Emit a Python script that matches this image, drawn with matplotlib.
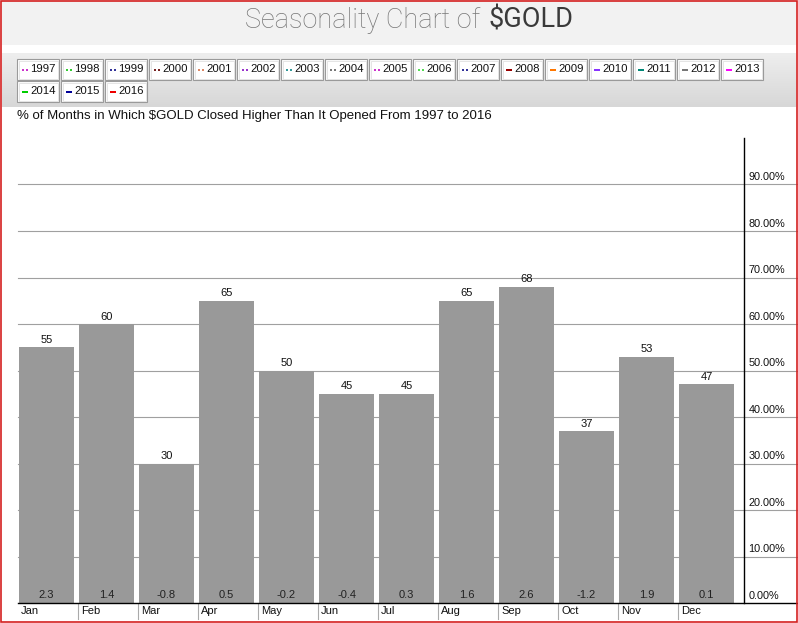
import numpy as np
import matplotlib.pyplot as plt
from matplotlib.patches import Rectangle
from matplotlib.colors import LinearSegmentedColormap

plt.rcParams['text.parse_math'] = False
plt.rcParams['font.family'] = ['Liberation Sans', 'DejaVu Sans']

MONTHS = ['Jan', 'Feb', 'Mar', 'Apr', 'May', 'Jun',
          'Jul', 'Aug', 'Sep', 'Oct', 'Nov', 'Dec']
PCT_HIGHER = [55, 60, 30, 65, 50, 45, 45, 65, 68, 37, 53, 47]
AVG_CHANGE = [2.3, 1.4, -0.8, 0.5, -0.2, -0.4, 0.3, 1.6, 2.6, -1.2, 1.9, 0.1]
Y_TICKS = [0, 10, 20, 30, 40, 50, 60, 70, 80, 90]

YEARS = [1997, 1998, 1999, 2000, 2001, 2002, 2003, 2004, 2005, 2006,
         2007, 2008, 2009, 2010, 2011, 2012, 2013, 2014, 2015, 2016]
YEAR_COLORS = ['#cc33cc', '#33cc33', '#333399', '#772222', '#dd8866',
               '#9933cc', '#339999', '#777777', '#cc33cc', '#55dd55',
               '#333399', '#990000', '#ff7700', '#8833ff', '#008877',
               '#777777', '#ff00ff', '#00cc00', '#000099', '#ee0000']

W, H = 798, 623
fig = plt.figure(figsize=(W / 100, H / 100), dpi=100)

# ── header: title band, legend band, subtitle (pixel coords) ─────────────
hdr = fig.add_axes([0, 0, 1, 1], zorder=-1)
hdr.add_patch(Rectangle((2, 0), W - 4, 45, color='#f2f2f2', lw=0))
grad = np.linspace(0, 1, 60).reshape(-1, 1)
cmap = LinearSegmentedColormap.from_list('band', ['#eeeeee', '#d7d7d7'])
hdr.imshow(grad, extent=(2, W - 2, 107, 53), cmap=cmap, aspect='auto',
           origin='upper')
hdr.set_xlim(0, W)
hdr.set_ylim(H, 0)
hdr.axis('off')

hdr.text(480, 28, 'Seasonality Chart of', ha='right', va='baseline',
         fontsize=19.5, color='#777777', family=['Roboto', 'DejaVu Sans'],
         fontweight='light')
hdr.text(488, 28, '$GOLD', ha='left', va='baseline', fontsize=19.5,
         color='#3a3a3a', family=['Roboto', 'DejaVu Sans'])

for k, (yr, col) in enumerate(zip(YEARS, YEAR_COLORS)):
    row, c = divmod(k, 17)
    x0, y0 = 17 + 44 * c, 59 + 22 * row
    hdr.add_patch(Rectangle((x0, y0), 42, 21, fc='white', ec='#9a9a9a', lw=0.8))
    hdr.add_patch(Rectangle((x0 + 1.5, y0 + 1.5), 39, 18, fc='none',
                            ec='#e0e0e0', lw=0.6))
    yc = y0 + 10.5
    if yr < 2008:
        for dx in (5, 9):
            hdr.add_patch(Rectangle((x0 + dx, yc - 1), 2, 2, color=col, lw=0))
    else:
        hdr.add_patch(Rectangle((x0 + 5, yc - 1), 6, 2.2, color=col, lw=0))
    hdr.text(x0 + 13.5, yc, str(yr), ha='left', va='center', fontsize=8.2,
             color='#111111')

hdr.text(17, 116, '% of Months in Which $GOLD Closed Higher Than It Opened '
         'From 1997 to 2016', ha='left', va='center', fontsize=9.5,
         color='#111111')

# ── main bar chart ───────────────────────────────────────────────────────
left, right, top, bottom = 18, 744, 138, 603
ax = fig.add_axes([left / W, 1 - bottom / H, (right - left) / W,
                   (bottom - top) / H])
x = np.arange(len(MONTHS))
ax.bar(x, PCT_HIGHER, width=0.917, color='#999999', zorder=2)
ax.set_xlim(-0.475, 11.625)
ax.set_ylim(0, 100)
for s in ('top', 'left', 'bottom'):
    ax.spines[s].set_visible(False)
ax.spines['right'].set_color('black')
ax.spines['right'].set_linewidth(1)
ax.set_xticks([])
ax.set_yticks([])

ext = (W - left) / (right - left)
for t in Y_TICKS[1:]:
    ax.axhline(t, xmin=0, xmax=ext, color='#a0a0a0', lw=0.8,
               clip_on=False, zorder=1)
ax.axhline(0, xmin=0, xmax=ext, color='black', lw=1, clip_on=False, zorder=3)

ytr = ax.get_yaxis_transform()
for t in Y_TICKS:
    ax.text(1.006, t + 0.45, f'{t:.2f}%', transform=ytr, ha='left',
            va='bottom', fontsize=7.8, color='#111111', clip_on=False)

for i, (v, c) in enumerate(zip(PCT_HIGHER, AVG_CHANGE)):
    ax.text(i, v + 0.5, str(v), ha='center', va='bottom', fontsize=8,
            color='#111111', zorder=4)
    ax.text(i, 0.7, f'{c:.1f}', ha='center', va='bottom', fontsize=8,
            color='#222222', zorder=4)

px = (bottom - top) / 100.0
for i, m in enumerate(MONTHS):
    ax.text(i - 0.475 + 3 / 60, -8 / px, m, ha='left', va='center',
            fontsize=8, color='#111111', clip_on=False)
    if i > 0:
        ax.plot([i - 0.475, i - 0.475], [0, -16 / px], color='#aaaaaa',
                lw=0.8, clip_on=False)

fig.patches.append(Rectangle((0.6 / W, 1.5 / H), (W - 1.5) / W, (H - 2.3) / H,
                             transform=fig.transFigure, fill=False,
                             ec='#d42020', lw=1.2, zorder=5))

fig.savefig('out.png', dpi=100)
